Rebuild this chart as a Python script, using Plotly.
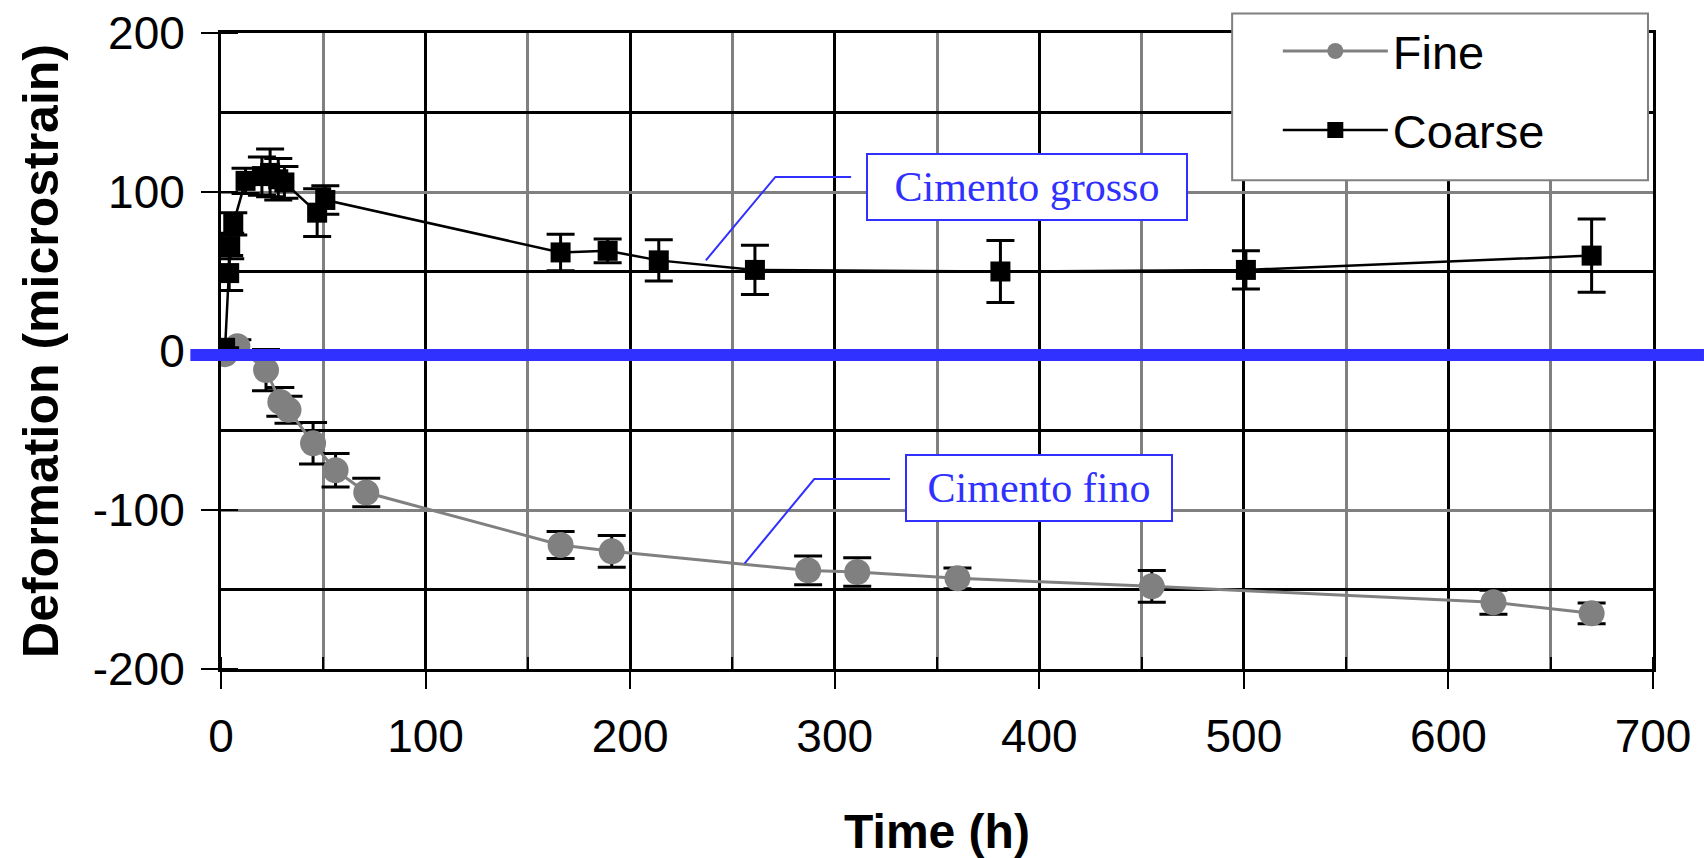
import plotly.graph_objects as go

# ---------------- data ----------------
fine_time = [2, 8, 22, 29, 33, 45, 56, 71, 166, 191, 287, 311, 360, 455, 622, 670]
fine_def = [-2, 3, -12, -32, -37, -58, -75, -89, -122, -126, -138, -139, -143, -148, -158, -165]
fine_err = [3, 4, 13, 9, 8.5, 13, 10.5, 9, 8.5, 10, 9, 9, 6.5, 10, 7.5, 6.5]

coarse_time = [2, 4, 4.5, 6, 12, 20, 24, 28, 31, 47, 51, 166, 189, 214, 261, 381, 501, 670]
coarse_def = [2, 49, 66, 80, 107, 110, 112, 108, 106, 87, 95, 62, 63, 57, 51, 50, 51, 60]
coarse_err = [0, 11, 8, 7, 8, 12, 15, 13, 10, 15, 9, 11.5, 7.5, 13, 15.5, 19.5, 12, 23]

x_ticks = [0, 100, 200, 300, 400, 500, 600, 700]
y_ticks = [-200, -100, 0, 100, 200]
y_tick_text = ["-200", "-100", "0", "100", "200"]

label_grosso = "Cimento grosso"
label_fino = "Cimento fino"
grosso_box = (394, 103)
fino_box = (400, -86)
grosso_leader = [(237, 57), (271, 109.5), (308, 109.5)]
fino_leader = [(256, -133.5), (290, -80.5), (327, -80.5)]
zero_line_y = -2.5

BLUE = "#3030ff"
GRAY = "#808080"

fig = go.Figure()

fig.add_trace(go.Scatter(
    x=fine_time, y=fine_def, name="Fine", mode="lines+markers",
    legendgroup="fine",
    line=dict(color=GRAY, width=3),
    marker=dict(symbol="circle", size=26, color=GRAY),
    error_y=dict(type="data", array=fine_err, visible=True,
                 color="black", thickness=3, width=14),
))
fig.add_trace(go.Scatter(
    x=coarse_time, y=coarse_def, name="Coarse", mode="lines+markers",
    legendgroup="coarse",
    line=dict(color="black", width=2.5),
    marker=dict(symbol="square", size=20, color="black"),
    error_y=dict(type="data", array=coarse_err, visible=True,
                 color="black", thickness=3, width=14),
))

FONT = "Liberation Sans, Arial, sans-serif"

fig.update_xaxes(
    range=[0, 700], tickvals=x_ticks, showgrid=True, gridcolor="black", gridwidth=3,
    ticks="outside", ticklen=17, tickwidth=2, tickcolor="black",
    minor=dict(dtick=50, tick0=0, showgrid=True, gridcolor=GRAY, gridwidth=2.5,
               ticks="inside", ticklen=12, tickwidth=2, tickcolor="black"),
    showline=True, linecolor="black", linewidth=3, mirror=True,
    zeroline=False,
    tickfont=dict(family=FONT, size=46, color="black"),
    ticklabelstandoff=8,
    title=dict(text="<b>Time (h)</b>", font=dict(family=FONT, size=48, color="black"),
               standoff=62),
)
fig.update_yaxes(
    range=[-200, 200], tickvals=y_ticks, ticktext=y_tick_text,
    showgrid=True, gridcolor=GRAY, gridwidth=2.5,
    ticks="outside", ticklen=17, tickwidth=2, tickcolor="black",
    minor=dict(dtick=50, tick0=0, showgrid=True, gridcolor="black", gridwidth=3,
               ticks="inside", ticklen=17, tickwidth=2, tickcolor="black"),
    showline=True, linecolor="black", linewidth=3, mirror=True,
    zeroline=False,
    tickfont=dict(family=FONT, size=46, color="black"),
    ticklabelstandoff=7,
    title=dict(text="<b>Deformation (microstrain)</b>",
               font=dict(family=FONT, size=50, color="black"), standoff=19),
)

# legend frame
fig.add_shape(type="rect", xref="paper", yref="paper",
              x0=0.7061, x1=0.9965, y0=0.7685, y1=1.0308,
              fillcolor="white", line=dict(color=GRAY, width=2), layer="above")

# thick blue zero line
fig.add_shape(type="line", xref="paper", yref="y", x0=-0.0214, x1=1.0356,
              y0=zero_line_y, y1=zero_line_y, line=dict(color=BLUE, width=12),
              layer="above")

# leader lines
for pts in (grosso_leader, fino_leader):
    path = "M " + " L ".join(f"{px},{py}" for px, py in pts)
    fig.add_shape(type="path", xref="x", yref="y", path=path,
                  line=dict(color=BLUE, width=2), layer="above")

for text, (bx, by), w in ((label_grosso, grosso_box, 318), (label_fino, fino_box, 264)):
    fig.add_annotation(x=bx, y=by, xref="x", yref="y", text=text, showarrow=False,
                       font=dict(family="Liberation Serif, Times New Roman, serif",
                                 size=42, color=BLUE),
                       bgcolor="white", bordercolor=BLUE, borderwidth=2, borderpad=0,
                       width=w, height=64)

fig.update_layout(
    width=1704, height=858,
    margin=dict(l=221, r=51, t=33, b=189, autoexpand=False),
    paper_bgcolor="white", plot_bgcolor="white",
    showlegend=True,
    legend=dict(x=0.738, y=1.03, xanchor="left", yanchor="top",
                bgcolor="rgba(0,0,0,0)", borderwidth=0,
                font=dict(family=FONT, size=47, color="black"),
                itemwidth=105, tracegroupgap=15, traceorder="grouped"),
)

fig.write_html("out.html", config={"displayModeBar": False},
               post_script="document.body.style.margin='0';document.body.style.overflow='hidden';")
